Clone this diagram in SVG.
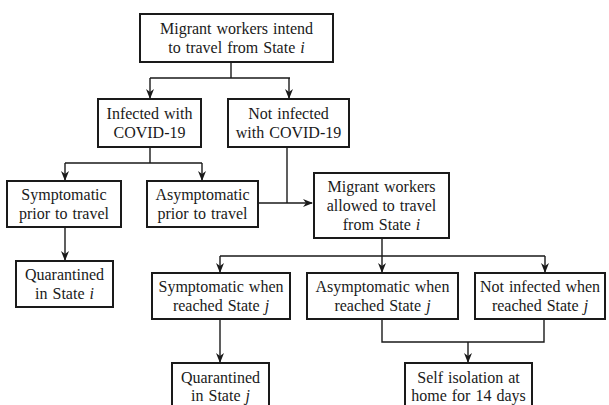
<svg xmlns="http://www.w3.org/2000/svg" width="609" height="405" viewBox="0 0 609 405">
<style>
.box{fill:#fff;stroke:#1a1a1a;stroke-width:2}
.t{font-family:"Liberation Serif","Times New Roman",serif;font-size:16px;fill:#1a1a1a;text-anchor:middle;word-spacing:1px}
.c{fill:none;stroke:#1a1a1a;stroke-width:1.4}
.it{font-style:italic}
</style>
<defs>
<marker id="ah" markerWidth="10" markerHeight="8" refX="9" refY="4" orient="auto" markerUnits="userSpaceOnUse">
<path d="M0,0 L10,4 L0,8 L3,4 z" fill="#1a1a1a"/>
</marker>
</defs>
<rect width="609" height="405" fill="#fff"/>
<g id="connectors">
<path class="c" d="M231,62 V78 M150,78 H290"/>
<path class="c" d="M150,78 V98" marker-end="url(#ah)"/>
<path class="c" d="M289,78 V98" marker-end="url(#ah)"/>
<path class="c" d="M150,147 V163 M65,163 H202"/>
<path class="c" d="M65,163 V180" marker-end="url(#ah)"/>
<path class="c" d="M202,163 V180" marker-end="url(#ah)"/>
<path class="c" d="M287,147 V203"/>
<path class="c" d="M258,203 H312" marker-end="url(#ah)"/>
<path class="c" d="M65,227 V260" marker-end="url(#ah)"/>
<path class="c" d="M382,238 V256 M220,256 H545"/>
<path class="c" d="M220,256 V272" marker-end="url(#ah)"/>
<path class="c" d="M382,256 V272" marker-end="url(#ah)"/>
<path class="c" d="M545,256 V272" marker-end="url(#ah)"/>
<path class="c" d="M220,319 V362" marker-end="url(#ah)"/>
<path class="c" d="M382,319 V342 H544 V319"/>
<path class="c" d="M468,342 V362" marker-end="url(#ah)"/>
</g>
<g id="n1"><rect class="box" x="140" y="14" width="193" height="48"/>
<text class="t" x="236.5" y="33.5">Migrant workers intend</text>
<text class="t" x="236.5" y="53">to travel from State <tspan class="it">i</tspan></text></g>
<g id="n2"><rect class="box" x="98" y="99" width="103" height="48"/>
<text class="t" x="149.5" y="118.5">Infected with</text>
<text class="t" x="149.5" y="138">COVID-19</text></g>
<g id="n3"><rect class="box" x="228" y="99" width="121" height="48"/>
<text class="t" x="288.5" y="118.5">Not infected</text>
<text class="t" x="288.5" y="138">with COVID-19</text></g>
<g id="n4"><rect class="box" x="7" y="181" width="114" height="46"/>
<text class="t" x="64" y="199.5">Symptomatic</text>
<text class="t" x="64" y="219">prior to travel</text></g>
<g id="n5"><rect class="box" x="147" y="181" width="111" height="46"/>
<text class="t" x="202.5" y="199.5">Asymptomatic</text>
<text class="t" x="202.5" y="219">prior to travel</text></g>
<g id="n6"><rect class="box" x="314" y="173" width="135" height="65"/>
<text class="t" x="381.5" y="191.5">Migrant workers</text>
<text class="t" x="381.5" y="210.5">allowed to travel</text>
<text class="t" x="381.5" y="229.5">from State <tspan class="it">i</tspan></text></g>
<g id="n7"><rect class="box" x="16" y="261" width="97" height="46"/>
<text class="t" x="64.5" y="279.5">Quarantined</text>
<text class="t" x="64.5" y="299">in State <tspan class="it">i</tspan></text></g>
<g id="n8"><rect class="box" x="152" y="273" width="138" height="46"/>
<text class="t" x="221" y="291.5">Symptomatic when</text>
<text class="t" x="221" y="311">reached State <tspan class="it">j</tspan></text></g>
<g id="n9"><rect class="box" x="307" y="273" width="151" height="46"/>
<text class="t" x="382.5" y="291.5">Asymptomatic when</text>
<text class="t" x="382.5" y="311">reached State <tspan class="it">j</tspan></text></g>
<g id="n10"><rect class="box" x="475" y="273" width="130" height="46"/>
<text class="t" x="540" y="291.5">Not infected when</text>
<text class="t" x="540" y="311">reached State <tspan class="it">j</tspan></text></g>
<g id="n11"><rect class="box" x="172" y="363" width="97" height="50"/>
<text class="t" x="220.5" y="383">Quarantined</text>
<text class="t" x="220.5" y="401">in State <tspan class="it">j</tspan></text></g>
<g id="n12"><rect class="box" x="405" y="363" width="127" height="50"/>
<text class="t" x="468.5" y="383">Self isolation at</text>
<text class="t" x="468.5" y="401">home for 14 days</text></g>
</svg>
